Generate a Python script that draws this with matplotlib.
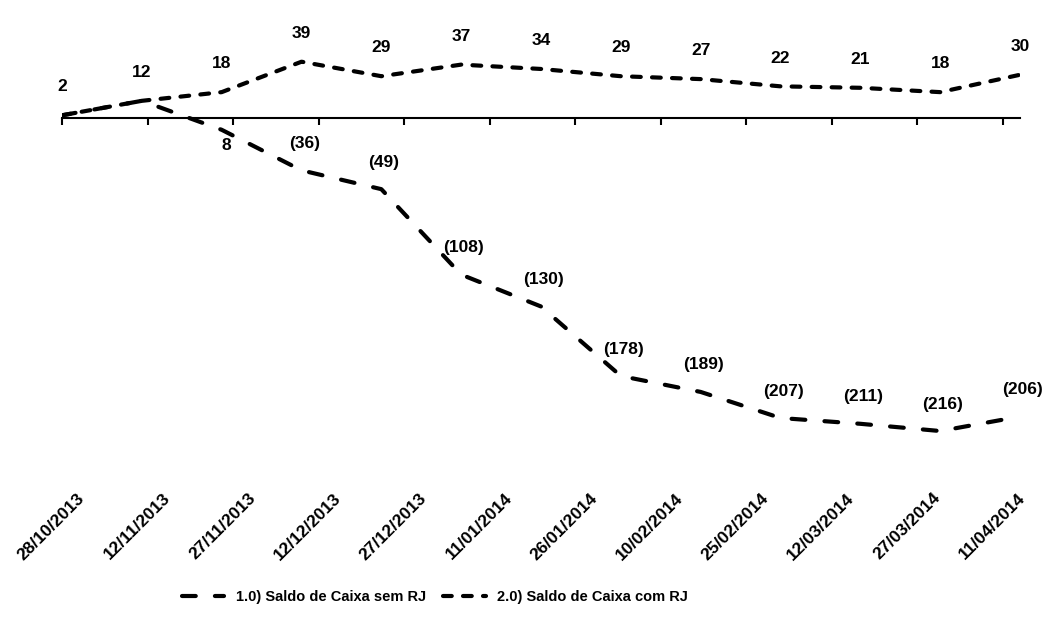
import datetime as dt
import matplotlib
matplotlib.use("Agg")
import matplotlib.pyplot as plt
import matplotlib.dates as mdates

plt.rcParams['font.family'] = ['Liberation Sans', 'DejaVu Sans']

# pontos da serie (quinzenais)
datas = [dt.date(2013, 10, 28), dt.date(2013, 11, 11), dt.date(2013, 11, 25),
         dt.date(2013, 12, 9), dt.date(2013, 12, 23), dt.date(2014, 1, 6),
         dt.date(2014, 1, 20), dt.date(2014, 2, 3), dt.date(2014, 2, 17),
         dt.date(2014, 3, 3), dt.date(2014, 3, 17), dt.date(2014, 3, 31),
         dt.date(2014, 4, 14)]
sem_rj = [2, 12, -8, -36, -49, -108, -130, -178, -189, -207, -211, -216, -206]
com_rj = [2, 12, 18, 39, 29, 37, 34, 29, 27, 22, 21, 18, 30]

sem_rotulos = ["", "", "8", "(36)", "(49)", "(108)", "(130)", "(178)",
               "(189)", "(207)", "(211)", "(216)", "(206)"]
com_rotulos = ["2", "12", "18", "39", "29", "37", "34", "29", "27", "22",
               "21", "18", "30"]

# eixo x
datas_eixo = [dt.date(2013, 10, 28), dt.date(2013, 11, 12), dt.date(2013, 11, 27),
              dt.date(2013, 12, 12), dt.date(2013, 12, 27), dt.date(2014, 1, 11),
              dt.date(2014, 1, 26), dt.date(2014, 2, 10), dt.date(2014, 2, 25),
              dt.date(2014, 3, 12), dt.date(2014, 3, 27), dt.date(2014, 4, 11)]
rotulos_eixo = [d.strftime("%d/%m/%Y") for d in datas_eixo]

fig = plt.figure(figsize=(10.57, 6.39), dpi=100)
ax = fig.add_axes([62 / 1057, 1 - 460 / 639, 958 / 1057, 420 / 639])

ax.plot(datas, sem_rj, color='black', lw=3, dashes=(3.3, 4.6),
        dash_capstyle='round', label='1.0) Saldo de Caixa sem RJ')
ax.plot(datas, com_rj, color='black', lw=3, dashes=(2.1, 2.7),
        dash_capstyle='round', label='2.0) Saldo de Caixa com RJ')

for d, v, t in zip(datas, com_rj, com_rotulos):
    ax.annotate(t, (d, v), xytext=(0, 15), textcoords='offset points',
                ha='center', va='bottom', fontsize=12.5, fontweight='bold')
for d, v, t in zip(datas, sem_rj, sem_rotulos):
    if t == "":
        continue
    if v > -20:
        ax.annotate(t, (d, v), xytext=(3, -6), textcoords='offset points',
                    ha='center', va='top', fontsize=12.5, fontweight='bold')
    else:
        ax.annotate(t, (d, v), xytext=(2, 14), textcoords='offset points',
                    ha='center', va='bottom', fontsize=12.5, fontweight='bold')

ax.set_xlim(dt.date(2013, 10, 28), dt.date(2014, 4, 14))
ax.set_ylim(-236, 54)

for s in ['top', 'right', 'left']:
    ax.spines[s].set_visible(False)
ax.spines['bottom'].set_position(('data', 0))
ax.spines['bottom'].set_linewidth(1.5)
ax.set_yticks([])
ax.set_xticks(datas_eixo)
ax.set_xticklabels([])
ax.tick_params(axis='x', direction='out', length=5, width=1.5)

desloc = matplotlib.transforms.ScaledTranslation(0.2, 0, fig.dpi_scale_trans)
for d, t in zip(datas_eixo, rotulos_eixo):
    ax.text(mdates.date2num(d), -0.085, t, transform=ax.get_xaxis_transform() + desloc,
            rotation=45, ha='right', va='center', rotation_mode='anchor',
            fontsize=12.5, fontweight='bold')

fig.legend(loc='center', bbox_to_anchor=(435 / 1057, 1 - 597 / 639), ncol=2,
           frameon=False, prop={'size': 10.5, 'weight': 'bold'},
           handlelength=2.9, handletextpad=0.8, columnspacing=1.2)

fig.savefig('out.png', dpi=100)
